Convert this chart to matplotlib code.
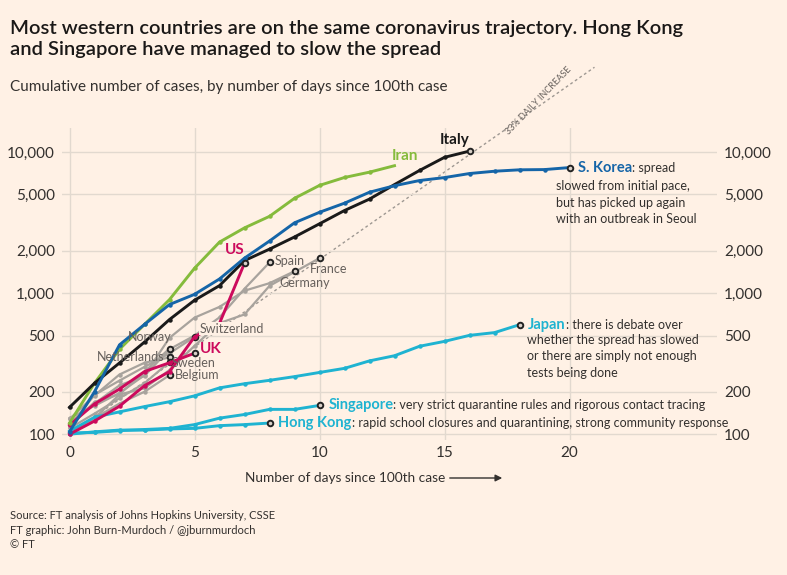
import numpy as np
import matplotlib
matplotlib.use('Agg')
import matplotlib.pyplot as plt
from matplotlib.ticker import FixedLocator, NullLocator

plt.rcParams['font.family'] = ['Lato', 'DejaVu Sans']

# data: cumulative cases by days since 100th case
iran = [120, 230, 400, 600, 900, 1500, 2300, 2900, 3500, 4700, 5800, 6600, 7200, 8000]
italy = [155, 230, 320, 450, 650, 890, 1130, 1700, 2050, 2500, 3100, 3850, 4640, 5880, 7400, 9170, 10150]
korea = [104, 200, 430, 600, 830, 980, 1260, 1770, 2340, 3150, 3740, 4340, 5190, 5770, 6280,
         6590, 7040, 7310, 7480, 7510, 7760]
us = [100, 124, 158, 221, 278, 490, 610, 1630]
spain = [120, 165, 222, 259, 400, 500, 673, 1073, 1650]
france = [100, 130, 191, 212, 285, 423, 613, 706, 1126, 1412, 1770]
germany = [130, 159, 196, 262, 482, 670, 799, 1040, 1176, 1430]
norway = [113, 169, 192, 277, 405]
netherlands = [128, 188, 265, 321, 350]
switzerland = [114, 190, 240, 300, 374, 490]
uk = [116, 164, 209, 278, 321, 375]
sweden = [110, 140, 180, 230, 325]
belgium = [105, 130, 165, 200, 262]
japan = [105, 132, 144, 157, 170, 187, 213, 228, 241, 256, 274, 293, 331, 360, 420, 455, 502, 525, 597]
singapore = [102, 103, 106, 108, 110, 117, 130, 138, 150, 150, 160]
hongkong = [100, 104, 107, 107, 109, 110, 115, 117, 120]

bg = '#fff1e5'
grey = '#a8a39d'
cyan = '#1fb3d1'
green = '#85bb3c'
blue = '#1565a8'
magenta = '#cc0a5c'
black = '#1a1a1a'

fig = plt.figure(figsize=(7.87, 5.75), dpi=100, facecolor=bg)
ax = fig.add_axes([62/787, 1-440/575, (717-62)/787, (440-128)/575], facecolor=bg)
ax.set_yscale('log')
ax.set_xlim(-0.3, 25.9)
ax.set_ylim(91, 14800)

yt = [100, 200, 500, 1000, 2000, 5000, 10000]
ax.yaxis.set_major_locator(FixedLocator(yt))
ax.yaxis.set_minor_locator(NullLocator())
ax.set_yticklabels([f'{v:,}' for v in yt])
ax.set_xticks([0, 5, 10, 15, 20])
ax.tick_params(length=0, labelsize=11, colors='#33302e', pad=4)
ax.tick_params(axis='y', labelright=True, pad=5)
ax.grid(True, color='#e2d9cf', lw=1)
for s in ax.spines.values():
    s.set_visible(False)

# 33% daily increase reference
t = np.arange(0, 21.05, 0.5)
ax.plot(t, 100 * 1.33 ** t, ls=(0, (2, 2)), color='#9e9892', lw=1, clip_on=False, zorder=1)
ax.text(18.9, 100 * 1.33 ** 18.9, '33% DAILY INCREASE', fontsize=6.5, color='#66605c',
        rotation=46, rotation_mode='anchor', ha='center', va='bottom')


def draw(vals, color, lw=2.1, z=3, marker=True):
    x = np.arange(len(vals))
    ax.plot(x, vals, color=color, lw=lw, zorder=z, clip_on=False)
    ax.plot(x[:-1], vals[:-1], 'o', ms=2.2, color=color, zorder=z, clip_on=False)
    if marker:
        ax.plot(x[-1], vals[-1], 'o', ms=4, mfc='#d8d0c8', mec='#222222', mew=1.4, zorder=z + 1, clip_on=False)


for s in [spain, france, germany, norway, netherlands, switzerland, sweden, belgium]:
    draw(s, grey, lw=1.6, z=2)
draw(hongkong, cyan)
draw(singapore, cyan)
draw(japan, cyan)
draw(uk, magenta)
draw(us, magenta)
draw(iran, green, marker=False)
draw(italy, black)
draw(korea, blue)

lab = dict(fontsize=9, color='#66605c', va='center')
ax.text(8.2, 1700, 'Spain', **lab)
ax.text(9.6, 1480, 'France', **lab)
ax.text(8.4, 1180, 'Germany', **lab)
ax.text(3.2, 440, 'Norway', ha='center', **dict(lab, va='bottom'))
ax.text(3.8, 350, 'Netherlands', ha='right', **lab)
ax.text(5.2, 560, 'Switzerland', bbox=dict(fc=bg, ec='none', pad=0.5), **lab)
ax.text(4.1, 320, 'Sweden', **lab)
ax.text(4.2, 262, 'Belgium', **lab)

ax.text(7, 1800, 'US', fontsize=11, fontweight='bold', color=magenta, ha='right', va='bottom')
ax.text(5.2, 405, 'UK', fontsize=11, fontweight='bold', color=magenta, va='center')
ax.text(12.9, 8300, 'Iran', fontsize=11, fontweight='bold', color=green, ha='left', va='bottom')
ax.text(16, 10800, 'Italy', fontsize=11, fontweight='bold', color=black, ha='right', va='bottom')


def callout(x, y, name, first, rest=None, restx=None, resty=None):
    t = ax.text(x, y, name, fontsize=10.5, fontweight='bold', color=cyan if name != 'S. Korea' else blue,
                va='center')
    ax.annotate(first, xy=(1, 0.5), xycoords=t, va='center', fontsize=9, color='#33302e')
    if rest:
        ax.text(restx, resty, rest, va='top', fontsize=9, color='#33302e', linespacing=1.45)


callout(20.35, 7760, 'S. Korea', ': spread',
        'slowed from initial pace,\nbut has picked up again\nwith an outbreak in Seoul', 19.45, 6300)
callout(18.35, 597, 'Japan', ': there is debate over',
        'whether the spread has slowed\nor there are simply not enough\ntests being done', 18.3, 515)
callout(10.35, 162, 'Singapore', ': very strict quarantine rules and rigorous contact tracing')
callout(8.35, 120, 'Hong Kong', ': rapid school closures and quarantining, strong community response')

fig.text(10/787, 1-20/575, 'Most western countries are on the same coronavirus trajectory. Hong Kong\nand Singapore have managed to slow the spread',
         fontsize=14.5, fontweight='semibold', color='#1a1817', va='top', linespacing=1.3)
fig.text(10/787, 1-87/575, 'Cumulative number of cases, by number of days since 100th case',
         fontsize=11, color='#33302e', va='center')
fig.text(245/787, 1-478/575, 'Number of days since 100th case', fontsize=9.8, color='#33302e', va='center')
fig.add_artist(matplotlib.patches.FancyArrowPatch((447/787, 1-478/575), (505/787, 1-478/575),
               transform=fig.transFigure, arrowstyle='-|>', mutation_scale=10, color='#33302e', lw=1))
fig.text(10/787, 1-530/575, 'Source: FT analysis of Johns Hopkins University, CSSE\nFT graphic: John Burn-Murdoch / @jburnmurdoch\n© FT',
         fontsize=8, color='#33302e', va='center', linespacing=1.4)

fig.savefig('out.png', dpi=100, facecolor=bg)
